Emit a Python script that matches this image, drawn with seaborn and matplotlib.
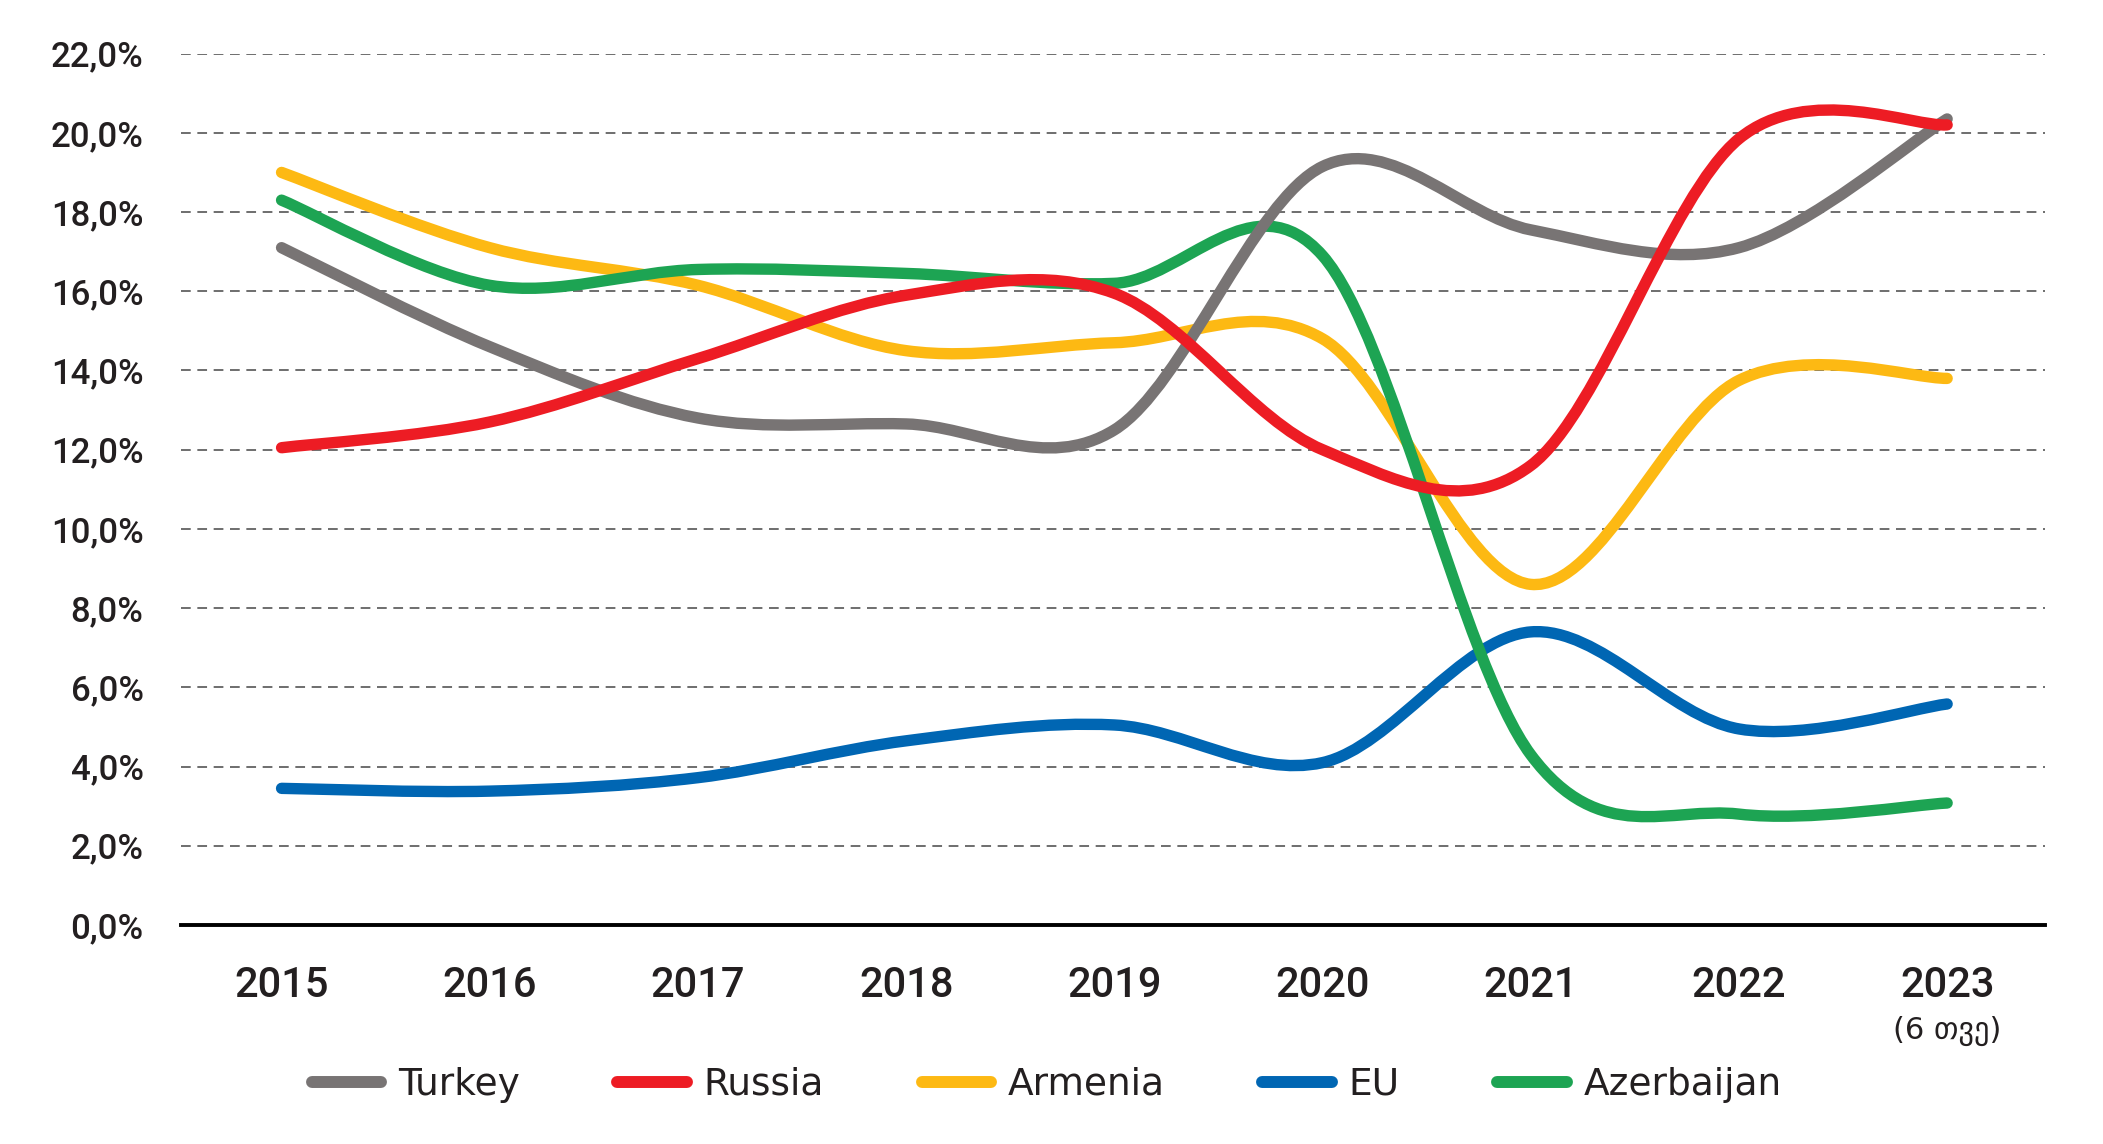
import numpy as np
import pandas as pd
import matplotlib
matplotlib.use("Agg")
import matplotlib.pyplot as plt
import matplotlib.transforms as mtransforms
import seaborn as sns
from matplotlib.path import Path
from matplotlib.patches import PathPatch
from matplotlib.lines import Line2D
from matplotlib import font_manager as fm

# ---------------- data (shares, %) ----------------
years = ["2015", "2016", "2017", "2018", "2019", "2020", "2021", "2022", "2023"]
year_note = "(6 თვე)"
countries = ["Turkey", "Russia", "Armenia", "EU", "Azerbaijan"]

turkey = [17.1, 14.6, 12.8, 12.65, 12.5, 19.15, 17.55, 17.1, 20.35]
russia = [12.05, 12.7, 14.3, 15.9, 15.95, 12.0, 11.6, 19.85, 20.2]
armenia = [19.0, 17.1, 16.15, 14.5, 14.7, 14.8, 8.6, 13.75, 13.8]
eu = [3.45, 3.38, 3.72, 4.65, 5.05, 4.1, 7.4, 4.95, 5.58]
azerbaijan = [18.3, 16.15, 16.55, 16.45, 16.2, 16.9, 4.3, 2.8, 3.08]

yticks = [0, 2, 4, 6, 8, 10, 12, 14, 16, 18, 20, 22]

# ---------------- style ----------------
colors = {"Turkey": "#787474", "Russia": "#ED1C24", "Armenia": "#FDB913",
          "EU": "#0066B3", "Azerbaijan": "#1DA453"}
draw_order = ["Armenia", "EU", "Azerbaijan", "Turkey", "Russia"]
text_color = "#231F20"


def pick_font(cands):
    names = {f.name for f in fm.fontManager.ttflist}
    for c in cands:
        if c in names:
            return c
    return "DejaVu Sans"


sns.set_theme(style="white")
plt.rcParams["font.family"] = ["DejaVu Sans"]
num_font = pick_font(["Liberation Sans Narrow", "Roboto", "DejaVu Sans"])

fig = plt.figure(figsize=(21.03, 11.44), dpi=100)
fig.patch.set_facecolor("white")
ax = fig.add_axes([0.08607, 0.19143, 0.88635, 0.76172])

series = {"Turkey": turkey, "Russia": russia, "Armenia": armenia,
          "EU": eu, "Azerbaijan": azerbaijan}
pos = np.arange(len(years))
df = pd.DataFrame({
    "pos": np.tile(pos, len(countries)),
    "share": np.concatenate([series[c] for c in countries]),
    "country": np.repeat(countries, len(years)),
})
# seaborn maps the data onto the axes (invisible base layer)
sns.lineplot(data=df, x="pos", y="share", hue="country", palette=colors,
             linewidth=0, legend=False, ax=ax)


def smooth_path(xs, ys):
    P = np.column_stack([xs, ys]).astype(float)
    n = len(P)
    verts = [P[0]]
    codes = [Path.MOVETO]
    for i in range(n - 1):
        p0 = P[max(i - 1, 0)]
        p1 = P[i]
        p2 = P[i + 1]
        p3 = P[min(i + 2, n - 1)]
        verts += [p1 + (p2 - p0) / 6.0, p2 - (p3 - p1) / 6.0, p2]
        codes += [Path.CURVE4] * 3
    return Path(verts, codes)


for k, c in enumerate(draw_order):
    patch = PathPatch(smooth_path(pos, series[c]), fill=False,
                      edgecolor=colors[c], lw=8.2, capstyle="round",
                      joinstyle="round", zorder=3 + k)
    ax.add_patch(patch)

ax.set_xlim(-0.483, 8.47)
ax.set_ylim(0, 22)
ax.set_yticks(yticks)
ax.set_yticklabels([f"{v:.1f}%".replace(".", ",") for v in yticks])
ax.set_xticks(pos)
ax.set_xticklabels(years)
ax.set_xlabel("")
ax.set_ylabel("")

ax.tick_params(axis="y", length=0, pad=27, labelsize=25, labelcolor=text_color)
ax.tick_params(axis="x", length=0, pad=29, labelsize=30, labelcolor=text_color)
for lab in ax.get_yticklabels():
    lab.set_fontfamily(num_font)
    lab.set_fontweight("medium")
for lab in ax.get_xticklabels():
    lab.set_fontfamily(num_font)
    lab.set_fontweight("medium")

ax.set_axisbelow(True)
ax.yaxis.grid(True, color="#6E6E6E", lw=1.4, linestyle=(0, (5, 3.4)))
ax.xaxis.grid(False)
for s in ["left", "right", "top"]:
    ax.spines[s].set_visible(False)
ax.spines["bottom"].set_color("#000000")
ax.spines["bottom"].set_linewidth(2.8)
ax.set_facecolor("white")

trans = mtransforms.blended_transform_factory(ax.transData, fig.transFigure)
ax.text(8, 0.0988, year_note, transform=trans, ha="center", va="center",
        fontsize=22, color=text_color, family=["DejaVu Sans"])

handles = [Line2D([0], [0], color=colors[c], lw=8.6, solid_capstyle="round")
           for c in countries]
fig.legend(handles, countries, loc="center", bbox_to_anchor=(0.4977, 0.0516),
           ncol=5, frameon=False, fontsize=27, handlelength=1.85,
           handletextpad=0.45, columnspacing=2.6, labelcolor=text_color)

fig.savefig("out.png", dpi=100, facecolor="white")
